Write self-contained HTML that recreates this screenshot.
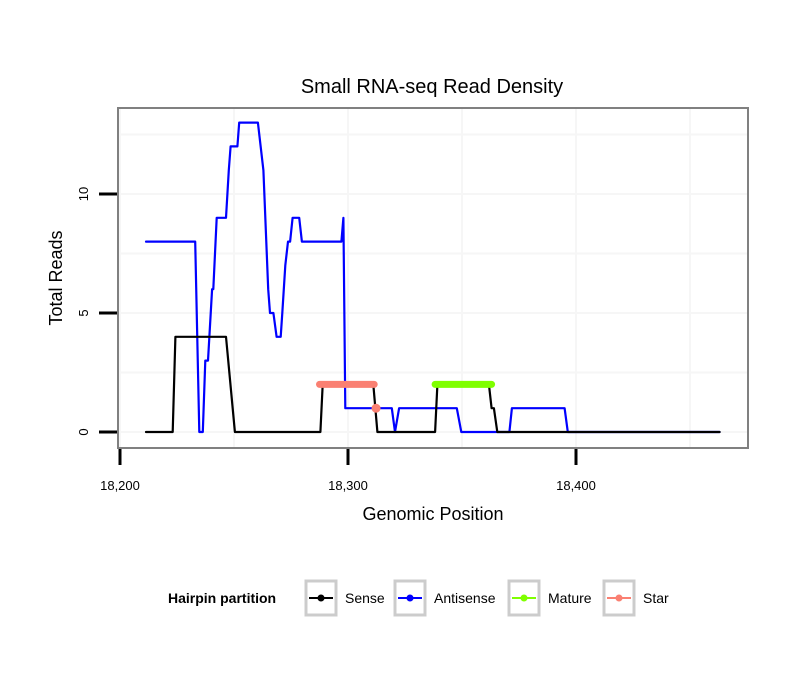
<!DOCTYPE html>
<html><head><meta charset="utf-8"><style>
body{margin:0;background:#fff}
svg text{font-family:"Liberation Sans",sans-serif}
</style></head><body>
<svg id="chart" width="810" height="690" xmlns="http://www.w3.org/2000/svg">
<rect width="810" height="690" fill="#fff"/>
<text x="432" y="93" font-size="20" text-anchor="middle">Small RNA-seq Read Density</text>
<g id="grid"></g>
<g id="series"></g>
<rect x="118" y="108" width="630" height="340" fill="none" stroke="#808080" stroke-width="2"/>
<g id="axes"></g>
<text x="433" y="520" font-size="18" text-anchor="middle">Genomic Position</text>
<text transform="translate(62,278) rotate(-90)" font-size="18" text-anchor="middle">Total Reads</text>
<g>
<text x="168" y="603" font-size="14" font-weight="bold">Hairpin partition</text>
<g>
<rect x="306" y="581" width="30" height="34" fill="#fff" stroke="#cccccc" stroke-width="3"/>
<line x1="309" y1="598" x2="333" y2="598" stroke="#000" stroke-width="2"/><circle cx="321" cy="598" r="3.5" fill="#000"/>
<text x="345" y="603" font-size="14">Sense</text></g>
<g>
<rect x="395" y="581" width="30" height="34" fill="#fff" stroke="#cccccc" stroke-width="3"/>
<line x1="398" y1="598" x2="422" y2="598" stroke="#0000ff" stroke-width="2"/><circle cx="410" cy="598" r="3.5" fill="#0000ff"/>
<text x="434" y="603" font-size="14">Antisense</text></g>
<g>
<rect x="509" y="581" width="30" height="34" fill="#fff" stroke="#cccccc" stroke-width="3"/>
<line x1="512" y1="598" x2="536" y2="598" stroke="#7fff00" stroke-width="2"/><circle cx="524" cy="598" r="3.5" fill="#7fff00"/>
<text x="548" y="603" font-size="14">Mature</text></g>
<g>
<rect x="604" y="581" width="30" height="34" fill="#fff" stroke="#cccccc" stroke-width="3"/>
<line x1="607" y1="598" x2="631" y2="598" stroke="#fa8072" stroke-width="2"/><circle cx="619" cy="598" r="3.5" fill="#fa8072"/>
<text x="643" y="603" font-size="14">Star</text></g>
</g>
</svg>
<script>
const xTicks=[18200,18300,18400];
const xTickLabels=["18,200","18,300","18,400"];
const xMinor=[18250,18350,18450];
const yTicks=[0,5,10];
const yTickLabels=["0","5","10"];
const yMinor=[2.5,7.5,12.5];
const antisensePos=[18211.4,18233,18234.8,18236.3,18237.4,18238.6,18240.4,18240.9,18242.4,18246.5,18247.7,18248.5,18251.5,18252.3,18260.5,18262.9,18265,18265.8,18267.3,18268.7,18270.5,18271.2,18272.5,18273.7,18274.6,18275.7,18278.6,18279.8,18297.1,18298,18298.8,18319.2,18320.6,18322.4,18347.7,18349.7,18370.8,18371.9,18395,18396.4,18463];
const antisenseVal=[8,8,0,0,3,3,6,6,9,9,11,12,12,13,13,11,6,5,5,4,4,5,7,8,8,9,9,8,8,9,1,1,0,1,1,0,0,1,1,0,0];
const sensePos=[18211.4,18223.1,18224.3,18246.5,18250.4,18287.9,18288.9,18311.1,18312.9,18338.2,18339.2,18361.8,18363,18364,18365.5,18463];
const senseVal=[0,0,4,4,0,0,2,2,0,0,2,2,1,1,0,0];
const starPos=[18287.5,18311.5];
const starVal=[2,2];
const starPointPos=[18312.3];
const starPointVal=[1];
const maturePos=[18338.2,18363];
const matureVal=[2,2];

const sx=v=>120+(v-18200)*2.28;
const sy=v=>432-v*23.8;
const NS="http://www.w3.org/2000/svg";
function mk(tag,attrs,parent){const e=document.createElementNS(NS,tag);for(const k in attrs)e.setAttribute(k,attrs[k]);parent.appendChild(e);return e;}
const grid=document.getElementById('grid'),series=document.getElementById('series'),axes=document.getElementById('axes');
yMinor.concat(yTicks).forEach(v=>{const l=mk('line',{x1:118,x2:748,y1:sy(v),y2:sy(v),stroke:'#f6f6f6','stroke-width':2},grid);

});
xMinor.concat(xTicks).forEach(v=>{if(sx(v)<=118||sx(v)>=748)return;const l=mk('line',{x1:sx(v),x2:sx(v),y1:108,y2:448,stroke:'#f6f6f6','stroke-width':2},grid);

});
function path(pos,val,color,w,name){const d=pos.map((p,i)=>(i?'L':'M')+sx(p).toFixed(1)+','+sy(val[i]).toFixed(1)).join('');
const e=mk('path',{d:d,fill:'none',stroke:color,'stroke-width':w,'stroke-linecap':'round','stroke-linejoin':'round'},series);

}
path(antisensePos,antisenseVal,'#0000ff',2.2,'antisense-line');
path(sensePos,senseVal,'#000',2.2,'sense-line');
path(starPos,starVal,'#fa8072',7,'star-line');
path(maturePos,matureVal,'#7fff00',7,'mature-line');
starPointPos.forEach((p,i)=>{const c=mk('circle',{cx:sx(p),cy:sy(starPointVal[i]),r:4.5,fill:'#fa8072'},series);

});
yTicks.forEach((v,i)=>{const t=mk('line',{x1:99,x2:117,y1:sy(v),y2:sy(v),stroke:'#000','stroke-width':3},axes);


const tx=mk('text',{transform:`translate(88,${sy(v)}) rotate(-90)`,'font-size':13,'text-anchor':'middle'},axes);tx.textContent=yTickLabels[i];

});
xTicks.forEach((v,i)=>{const t=mk('line',{x1:sx(v),x2:sx(v),y1:449,y2:465,stroke:'#000','stroke-width':3},axes);


const tx=mk('text',{x:sx(v),y:490,'font-size':13,'text-anchor':'middle'},axes);tx.textContent=xTickLabels[i];

});
</script>
</body></html>
